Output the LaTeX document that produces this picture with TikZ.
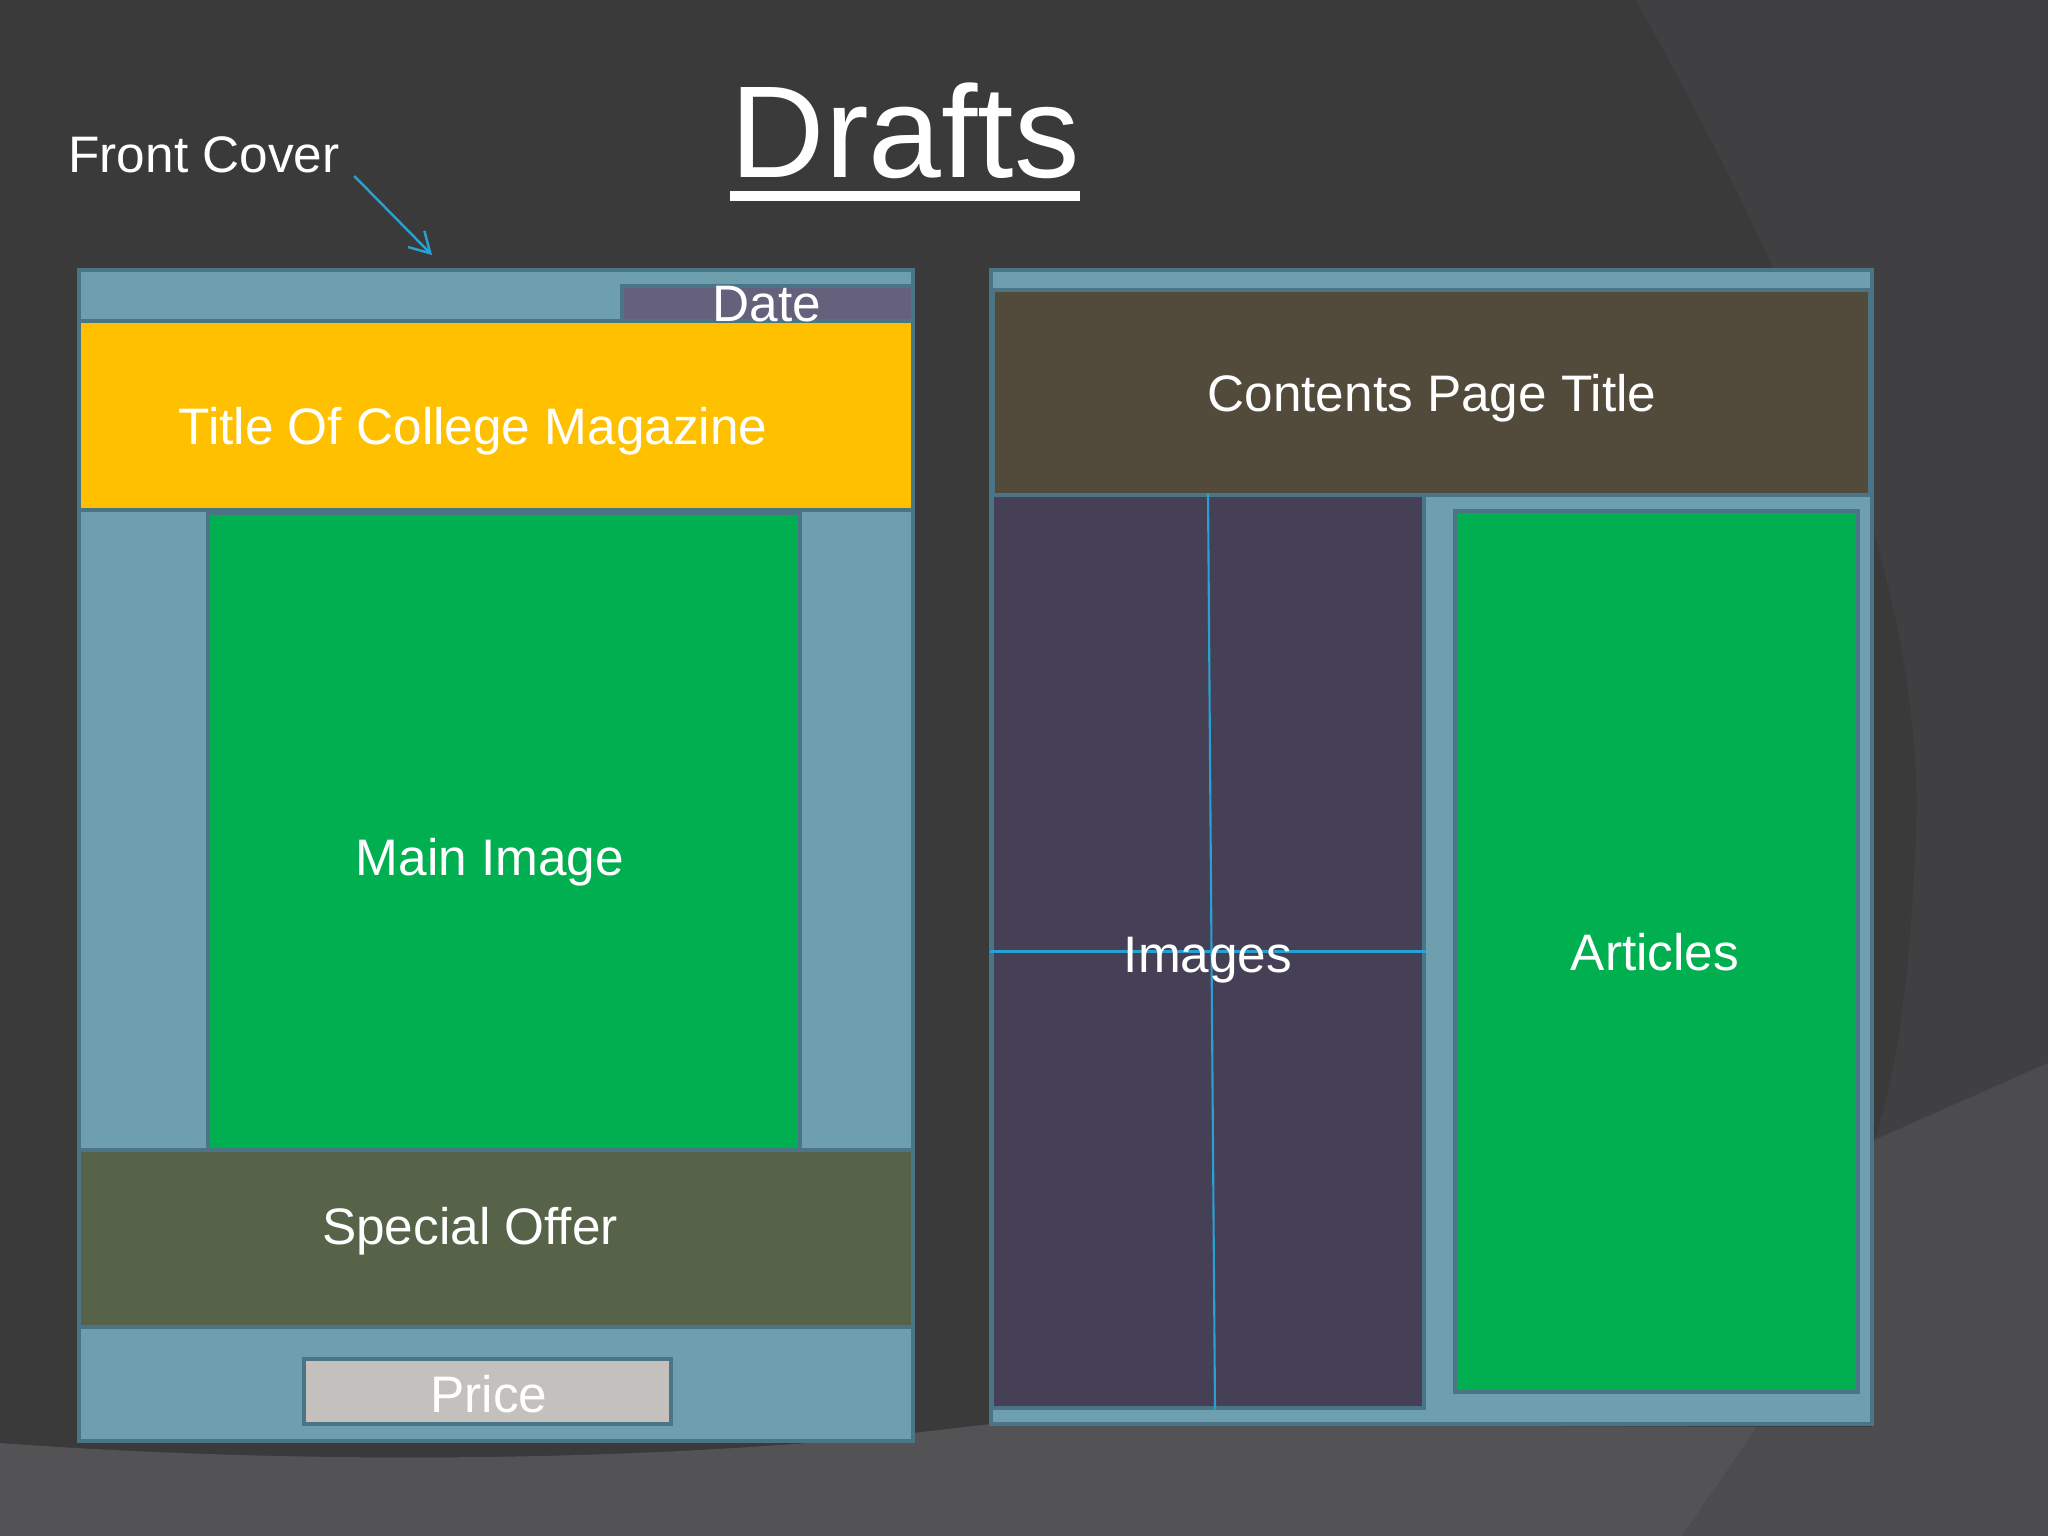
\documentclass[tikz,border=0pt]{standalone}
\usepackage{fontspec}
\setmainfont{Liberation Sans}
\usepackage{xcolor}
\usetikzlibrary{arrows.meta, positioning, fit}

\definecolor{slate}{RGB}{58,58,58}
\definecolor{slatearc}{RGB}{64,64,66}
\definecolor{slatelow}{RGB}{76,76,78}
\definecolor{slatefloor}{RGB}{83,83,85}
\definecolor{paleblue}{RGB}{110,159,175}
\definecolor{tealedge}{RGB}{75,117,135}
\definecolor{datebox}{RGB}{101,97,125}
\definecolor{mastyellow}{RGB}{255,192,0}
\definecolor{leafgreen}{RGB}{0,176,80}
\definecolor{offergreen}{RGB}{87,99,73}
\definecolor{pricegrey}{RGB}{196,192,189}
\definecolor{titlebrown}{RGB}{82,74,58}
\definecolor{imgpurple}{RGB}{70,64,87}
\definecolor{guideblue}{RGB}{41,160,210}

\begin{document}
\begin{tikzpicture}[
  x=0.01cm, y=-0.01cm,
  sheet/.style={rectangle, draw=tealedge, line width=1.1pt, fill=paleblue, inner sep=0pt},
  panel/.style={rectangle, draw=tealedge, line width=0.9pt, inner sep=0pt},
  boxlabel/.style={anchor=base, text=white, inner sep=0pt, font=\fontsize{14.6}{17}\selectfont},
  gridline/.style={draw=guideblue, line width=0.6pt},
  arr/.style={-{Straight Barb[length=2mm, width=2.3mm]}, line width=0.7pt, guideblue}
]
  \useasboundingbox (0,0) rectangle (2048,1536);

  % backdrop
  \fill[slate] (0,0) rectangle (2048,1536);
  \fill[slatearc] (1636,0) .. controls (1780,260) and (1925,560) .. (1916,830) .. controls (1910,990) and (1895,1080) .. (1874,1141) -- (2048,1063) -- (2048,0) -- cycle;
  \fill[slatelow] (1872,1141) -- (2048,1063) -- (2048,1536) -- (1682,1536) -- (1757,1427) -- (1872,1427) -- cycle;
  \fill[slatefloor] (0,1443) .. controls (300,1465) and (650,1462) .. (913,1433) -- (991,1424) -- (1757,1427) -- (1682,1536) -- (0,1536) -- cycle;

  % heading
  \node[anchor=base, text=white, inner sep=0pt, font=\fontsize{37.2}{44}\selectfont] (heading) at (905,177) {Drafts};
  \draw[white, line width=2.8pt] ([yshift=-0.19cm]heading.base west) -- ([yshift=-0.19cm]heading.base east);

  % front cover
  \node[sheet, fit={(79,270) (913,1441)}] (cover) {};
  \node[panel, fill=datebox, fit={(622,286) (913,321)}] (datebox) {};
  \node[panel, fill=mastyellow, fit={(79,321) (913,510)}] (masthead) {};
  \node[panel, fill=leafgreen, fit={(208,513) (800,1150)}] (mainimg) {};
  \node[panel, fill=offergreen, fit={(79,1150) (913,1327)}] (offer) {};
  \node[panel, fill=pricegrey, fit={(304,1359) (671,1424)}] (price) {};

  \node[boxlabel] (datetxt) at (767,321) {Date};
  \node[boxlabel] (masttxt) at (473,444) {Title Of College Magazine};
  \node[boxlabel] (maintxt) at (490,875) {Main Image};
  \node[boxlabel] (offertxt) at (470,1244) {Special Offer};
  \node[boxlabel] (pricetxt) at (489,1412) {Price};

  % contents page
  \node[sheet, fit={(991,270) (1872,1424)}] (contents) {};
  \node[panel, fill=titlebrown, fit={(993,290) (1870,495)}] (ctitle) {};
  \node[panel, fill=imgpurple, fit={(992,495) (1424,1408)}] (images) {};
  \node[panel, fill=leafgreen, fit={(1455,511) (1858,1392)}] (articles) {};

  \draw[gridline] (images.north) -- ([xshift=0.07cm]images.south);
  \draw[gridline] (images.west) -- (images.east);

  \node[boxlabel] (ctitletxt) at (1432,411) {Contents Page Title};
  \node[boxlabel] (imagestxt) at (1208,972) {Images};
  \node[boxlabel] (articlestxt) at (1655,970) {Articles};

  % pointer to the cover
  \node[boxlabel] (fronttxt) at (204,172) {Front Cover};
  \coordinate (covertip) at (432,255);
  \draw[arr] ([xshift=0.14cm,yshift=-0.04cm]fronttxt.base east) -- (covertip);
\end{tikzpicture}
\end{document}
